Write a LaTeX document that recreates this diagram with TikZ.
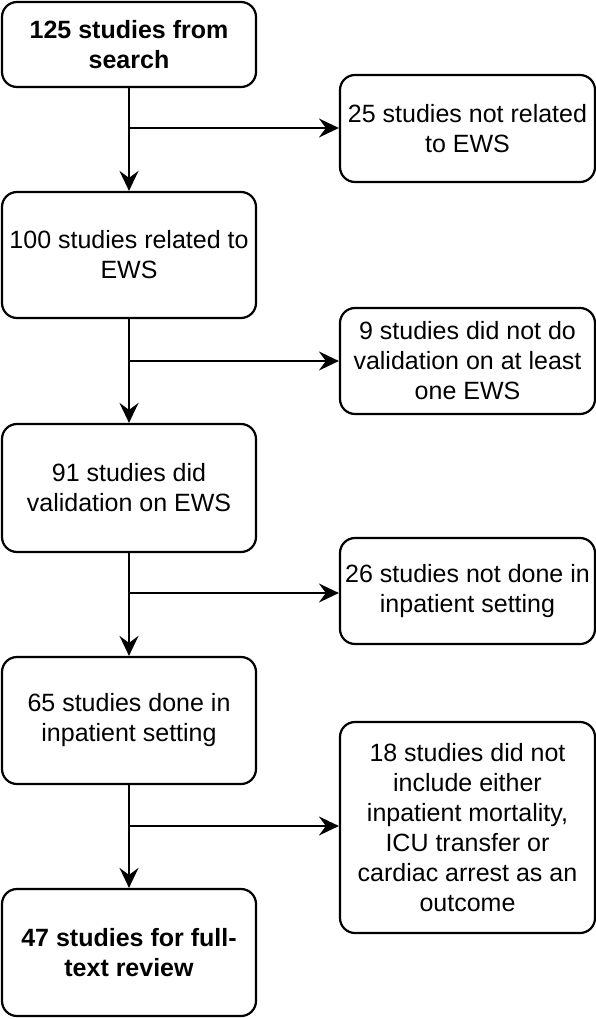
\documentclass[tikz,border=0pt]{standalone}
\usepackage{fontspec}
\setmainfont{Liberation Sans}
\usetikzlibrary{arrows.meta}
\begin{document}
\begin{tikzpicture}[x=1pt,y=-1pt,
  box/.style={draw=black, line width=2.2pt, rounded corners=15pt, align=center,
    inner sep=0pt, font=\fontsize{25}{30}\selectfont},
  lbox/.style={box, minimum width=254pt},
  rbox/.style={box, minimum width=255pt},
  conn/.style={line width=2.2pt, -{Stealth[length=20pt,width=19pt,inset=7pt]}},
  seg/.style={line width=2.2pt}]
\useasboundingbox (0,0) rectangle (596,1019);
\node[lbox, minimum height=85pt, font=\fontsize{25}{30}\selectfont\bfseries] (b1) at (129,44.5) {125 studies from\\search};
\node[lbox, minimum height=126pt] (b2) at (129,255) {100 studies related to\\EWS};
\node[lbox, minimum height=128pt] (b3) at (129,488) {91 studies did\\validation on EWS};
\node[lbox, minimum height=127pt] (b4) at (129,720.5) {65 studies done in\\inpatient setting};
\node[lbox, minimum height=127pt, font=\fontsize{25}{30}\selectfont\bfseries] (b5) at (129,952.5) {47 studies for full-\\text review};
\node[rbox, minimum height=107pt] (r1) at (467.5,128.5) {25 studies not related\\to EWS};
\node[rbox, minimum height=106pt] (r2) at (467.5,361) {9 studies did not do\\validation on at least\\one EWS};
\node[rbox, minimum height=106pt] (r3) at (467.5,591) {26 studies not done in\\inpatient setting};
\node[rbox, minimum height=211pt] (r4) at (467.5,827.5) {18 studies did not\\include either\\inpatient mortality,\\ICU transfer or\\cardiac arrest as an\\outcome};
\coordinate (j1) at (129,128);
\coordinate (j2) at (129,361);
\coordinate (j3) at (129,593);
\coordinate (j4) at (129,826);
\draw[conn] (b1.south) -- (b2.north);
\draw[conn] (b2.south) -- (b3.north);
\draw[conn] (b3.south) -- (b4.north);
\draw[conn] (b4.south) -- (b5.north);
\draw[conn] (j1) -- (j1 -| r1.west);
\draw[conn] (j2) -- (j2 -| r2.west);
\draw[conn] (j3) -- (j3 -| r3.west);
\draw[conn] (j4) -- (j4 -| r4.west);
\end{tikzpicture}
\end{document}
